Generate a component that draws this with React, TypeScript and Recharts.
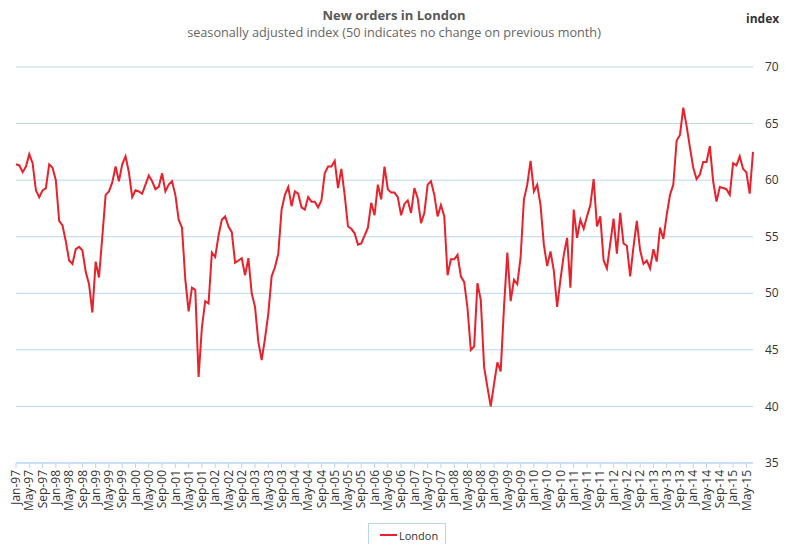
import { LineChart, Line, XAxis, YAxis, CartesianGrid } from "recharts";

// monthly index readings, Jan-97 .. Jul-15
const y1997 = [61.4, 61.3, 60.7, 61.2, 62.3, 61.5, 59.1, 58.5, 59.1, 59.3, 61.4, 61.1];
const y1998 = [60.0, 56.4, 56.0, 54.6, 52.9, 52.6, 53.9, 54.1, 53.8, 51.9, 50.8, 48.3];
const y1999 = [52.8, 51.4, 55.0, 58.7, 59.0, 59.8, 61.2, 59.9, 61.4, 62.1, 60.7, 58.5];
const y2000 = [59.1, 59.0, 58.8, 59.6, 60.4, 59.9, 59.2, 59.4, 60.6, 59.0, 59.6, 59.9];
const y2001 = [58.7, 56.5, 55.8, 51.2, 48.4, 50.5, 50.3, 42.6, 47.0, 49.3, 49.1, 53.6];
const y2002 = [53.2, 55.1, 56.5, 56.8, 55.9, 55.4, 52.7, 52.9, 53.1, 51.6, 53.1, 50.0];
const y2003 = [48.8, 45.7, 44.1, 46.0, 48.2, 51.5, 52.3, 53.5, 57.4, 58.7, 59.4, 57.7];
const y2004 = [59.0, 58.8, 57.6, 57.4, 58.5, 58.1, 58.1, 57.6, 58.2, 60.6, 61.2, 61.2];
const y2005 = [61.7, 59.3, 61.0, 58.7, 55.9, 55.7, 55.3, 54.3, 54.4, 55.1, 55.8, 58.0];
const y2006 = [56.9, 59.6, 58.3, 61.2, 59.2, 58.9, 58.9, 58.5, 56.9, 57.9, 58.2, 57.1];
const y2007 = [59.3, 58.4, 56.2, 57.1, 59.6, 59.9, 58.7, 56.8, 57.8, 56.8, 51.6, 53.0];
const y2008 = [53.0, 53.4, 51.5, 51.0, 48.7, 45.0, 45.3, 50.9, 49.4, 43.5, 41.7, 40.0];
const y2009 = [42.0, 43.9, 43.1, 48.8, 53.6, 49.3, 51.2, 50.8, 53.2, 58.3, 59.6, 61.7];
const y2010 = [59.0, 59.6, 57.8, 54.3, 52.4, 53.7, 52.0, 48.8, 51.2, 53.4, 54.9, 50.5];
const y2011 = [57.4, 54.9, 56.5, 55.7, 56.8, 57.8, 60.1, 55.9, 56.8, 52.9, 52.2, 54.4];
const y2012 = [56.6, 53.5, 57.1, 54.4, 54.2, 51.5, 54.1, 56.4, 53.8, 52.6, 52.9, 52.2];
const y2013 = [53.9, 52.8, 55.8, 54.8, 56.9, 58.7, 59.6, 63.5, 64.0, 66.4, 64.8, 62.9];
const y2014 = [61.1, 60.1, 60.5, 61.6, 61.6, 63.0, 59.9, 58.1, 59.4, 59.3, 59.2, 58.7];
const y2015 = [61.5, 61.3, 62.1, 61.0, 60.7, 58.8, 62.5];

const years = [
  y1997, y1998, y1999, y2000, y2001, y2002, y2003, y2004, y2005, y2006,
  y2007, y2008, y2009, y2010, y2011, y2012, y2013, y2014, y2015,
];
const monthNames = ["Jan", "Feb", "Mar", "Apr", "May", "Jun", "Jul", "Aug", "Sep", "Oct", "Nov", "Dec"];
const yTicks = [35, 40, 45, 50, 55, 60, 65, 70];

const data = years.flatMap((vals, yi) =>
  vals.map((v, mi) => ({
    month: `${monthNames[mi]}-${String((97 + yi) % 100).padStart(2, "0")}`,
    London: v,
  }))
);

const FONT = "'Open Sans', sans-serif";
const GRID = "#b9d7ef";

const XTick = ({ x, y, payload }: any) => (
  <g transform={`translate(${x},${y})`}>
    <text
      transform="rotate(-90)"
      textAnchor="end"
      dy="0.35em"
      fontSize={12}
      fill="#333"
      fontFamily={FONT}
    >
      {payload.value}
    </text>
  </g>
);

const YTick = ({ x, y, payload }: any) => (
  <text x={x} y={y} dy="0.35em" textAnchor="start" fontSize={12} fill="#333" fontFamily={FONT}>
    {payload.value}
  </text>
);

export default function App() {
  return (
    <div style={{ position: "absolute", left: 0, top: 0, width: 788, height: 544, fontFamily: FONT, background: "#fff" }}>
      <div style={{ position: "absolute", left: 0, width: 788, top: 6, textAlign: "center", fontSize: 13, fontWeight: "bold", color: "#595959" }}>
        New orders in London
      </div>
      <div style={{ position: "absolute", left: 0, width: 788, top: 23, textAlign: "center", fontSize: 12.7, color: "#666" }}>
        seasonally adjusted index (50 indicates no change on previous month)
      </div>
      <div style={{ position: "absolute", left: 746, top: 10, fontSize: 12, fontWeight: "bold", color: "#333" }}>
        index
      </div>

      <LineChart width={788} height={544} data={data} margin={{ top: 67, right: 0, left: 16, bottom: 21 }}>
        <CartesianGrid horizontal vertical={false} stroke={GRID} />
        <XAxis
          dataKey="month"
          interval={3}
          height={60}
          tick={<XTick />}
          tickSize={5}
          axisLine={{ stroke: GRID }}
          tickLine={{ stroke: GRID }}
        />
        <YAxis
          orientation="right"
          domain={[35, 70]}
          ticks={yTicks}
          width={35}
          axisLine={false}
          tickLine={false}
          tickSize={6}
          tickMargin={6}
          tick={<YTick />}
        />
        <Line
          type="linear"
          dataKey="London"
          stroke="#e8212b"
          strokeWidth={2}
          dot={false}
          isAnimationActive={false}
        />
      </LineChart>

      <div
        style={{
          position: "absolute",
          left: 368,
          top: 523,
          width: 78,
          height: 24,
          border: `1px solid ${GRID}`,
          boxSizing: "border-box",
          display: "flex",
          alignItems: "center",
          fontSize: 11,
          color: "#333",
        }}
      >
        <span style={{ display: "inline-block", width: 17, height: 2, background: "#e8212b", marginLeft: 11, marginRight: 2 }} />
        London
      </div>
    </div>
  );
}
